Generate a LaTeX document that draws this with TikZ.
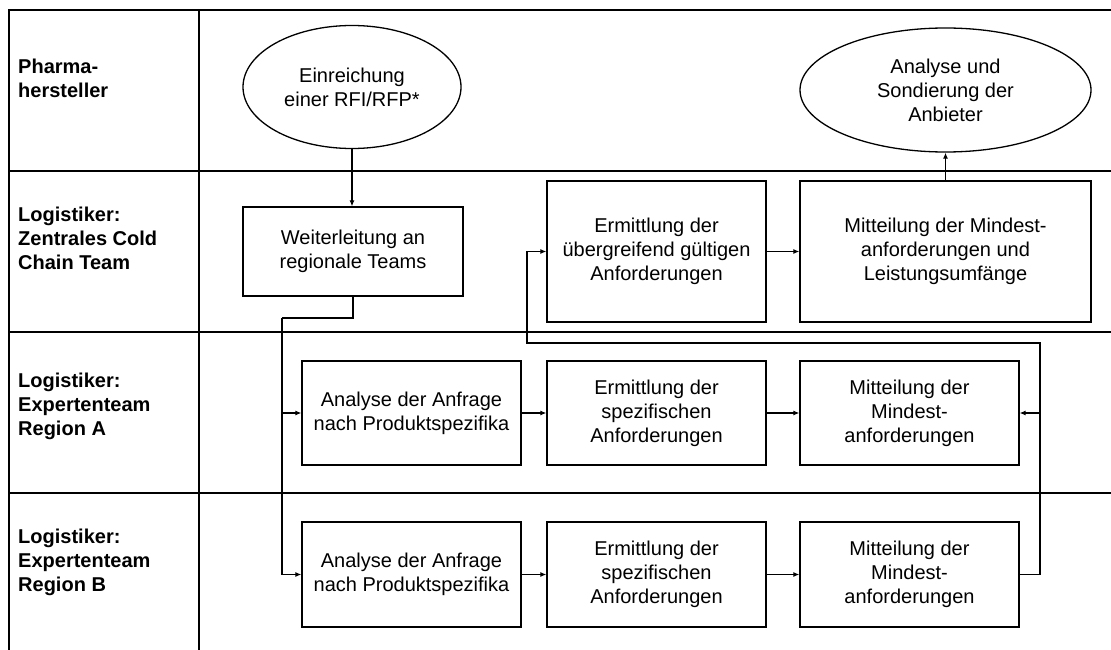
\documentclass[tikz,border=0pt]{standalone}
\usepackage{fontspec}
\setmainfont{Liberation Sans}
\usetikzlibrary{shapes.geometric,arrows.meta}

\begin{document}
\begin{tikzpicture}[yscale=-1
                ,every node/.style={font=\fontsize{20pt}{24pt}\selectfont}
                ,plane/.style={color=black,line width=1.6pt}
                ,pbox/.style={draw=black,line width=1.3pt,rectangle,align=center,inner sep=0pt}
                ,poval/.style={draw=black,line width=1.3pt,ellipse,align=center,inner sep=0pt}
                ,pflow/.style={color=black,line width=1.1pt}
                ,parrow/.style={pflow,-{Latex[length=6pt,width=5pt]}}
                ,plabel/.style={anchor=west,align=left,inner sep=0pt,font=\fontsize{20pt}{24pt}\selectfont\bfseries}
            ]
            \useasboundingbox (0pt,0pt) rectangle (1111pt,650pt);
            % swimlanes
            \draw[plane] (9pt,650pt) -- (9pt,10pt) -- (1111pt,10pt);
            \draw[plane] (199pt,10pt) -- (199pt,650pt);
            \draw[plane] (9pt,171pt) -- (1111pt,171pt);
            \draw[plane] (9pt,332pt) -- (1111pt,332pt);
            \draw[plane] (9pt,493pt) -- (1111pt,493pt);
            \node[plabel] (lhersteller) at (18pt,78pt) {Pharma-\\hersteller};
            \node[plabel] (lzentral) at (18pt,238pt) {Logistiker:\\Zentrales Cold\\Chain Team};
            \node[plabel] (lregiona) at (18pt,406pt) {Logistiker:\\Expertenteam\\Region A};
            \node[plabel] (lregionb) at (18pt,562pt) {Logistiker:\\Expertenteam\\Region B};
            % steps
            \node[poval,minimum width=218pt,minimum height=123pt] (einreichung) at (352pt,87pt) {Einreichung\\einer RFI/RFP*};
            \node[poval,minimum width=291pt,minimum height=124pt] (sondierung) at (945.5pt,90pt) {Analyse und\\Sondierung der\\Anbieter};
            \node[pbox,minimum width=220pt,minimum height=89pt] (weiterleitung) at (353pt,251.5pt) {Weiterleitung an\\regionale Teams};
            \node[pbox,minimum width=219pt,minimum height=141pt] (ermzentral) at (656.5pt,251.5pt) {Ermittlung der\\übergreifend gültigen\\Anforderungen};
            \node[pbox,minimum width=291pt,minimum height=141pt] (mitzentral) at (945.5pt,251.5pt) {Mitteilung der Mindest-\\anforderungen und\\Leistungsumfänge};
            \node[pbox,minimum width=219pt,minimum height=104pt] (anaa) at (411.5pt,413pt) {Analyse der Anfrage\\nach Produktspezifika};
            \node[pbox,minimum width=219pt,minimum height=104pt] (erma) at (656.5pt,413pt) {Ermittlung der\\spezifischen\\Anforderungen};
            \node[pbox,minimum width=219pt,minimum height=104pt] (mita) at (909.5pt,413pt) {Mitteilung der\\Mindest-\\anforderungen};
            \node[pbox,minimum width=219pt,minimum height=105pt] (anab) at (411.5pt,574.5pt) {Analyse der Anfrage\\nach Produktspezifika};
            \node[pbox,minimum width=219pt,minimum height=105pt] (ermb) at (656.5pt,574.5pt) {Ermittlung der\\spezifischen\\Anforderungen};
            \node[pbox,minimum width=219pt,minimum height=105pt] (mitb) at (909.5pt,574.5pt) {Mitteilung der\\Mindest-\\anforderungen};
            % flow
            \coordinate (verteiler) at (282pt,318pt);
            \coordinate (rueckr) at (1040pt,343pt);
            \coordinate (rueckl) at (527pt,343pt);
            \draw[parrow] (einreichung.south) -- (einreichung.south |- weiterleitung.north);
            \draw[pflow] (weiterleitung.south) |- (verteiler);
            \draw[parrow] (verteiler) |- (anaa.west);
            \draw[parrow] (verteiler) |- (anab.west);
            \draw[parrow] (anaa) -- (erma);
            \draw[parrow] (erma) -- (mita);
            \draw[parrow] (anab) -- (ermb);
            \draw[parrow] (ermb) -- (mitb);
            \draw[parrow] (mitb.east) -| (rueckr) -- (rueckl) |- (ermzentral.west);
            \draw[parrow] (rueckr |- mita.east) -- (mita.east);
            \draw[parrow] (ermzentral) -- (mitzentral);
            \draw[parrow] (mitzentral.north) -- (sondierung.south);
        \end{tikzpicture}
\end{document}
